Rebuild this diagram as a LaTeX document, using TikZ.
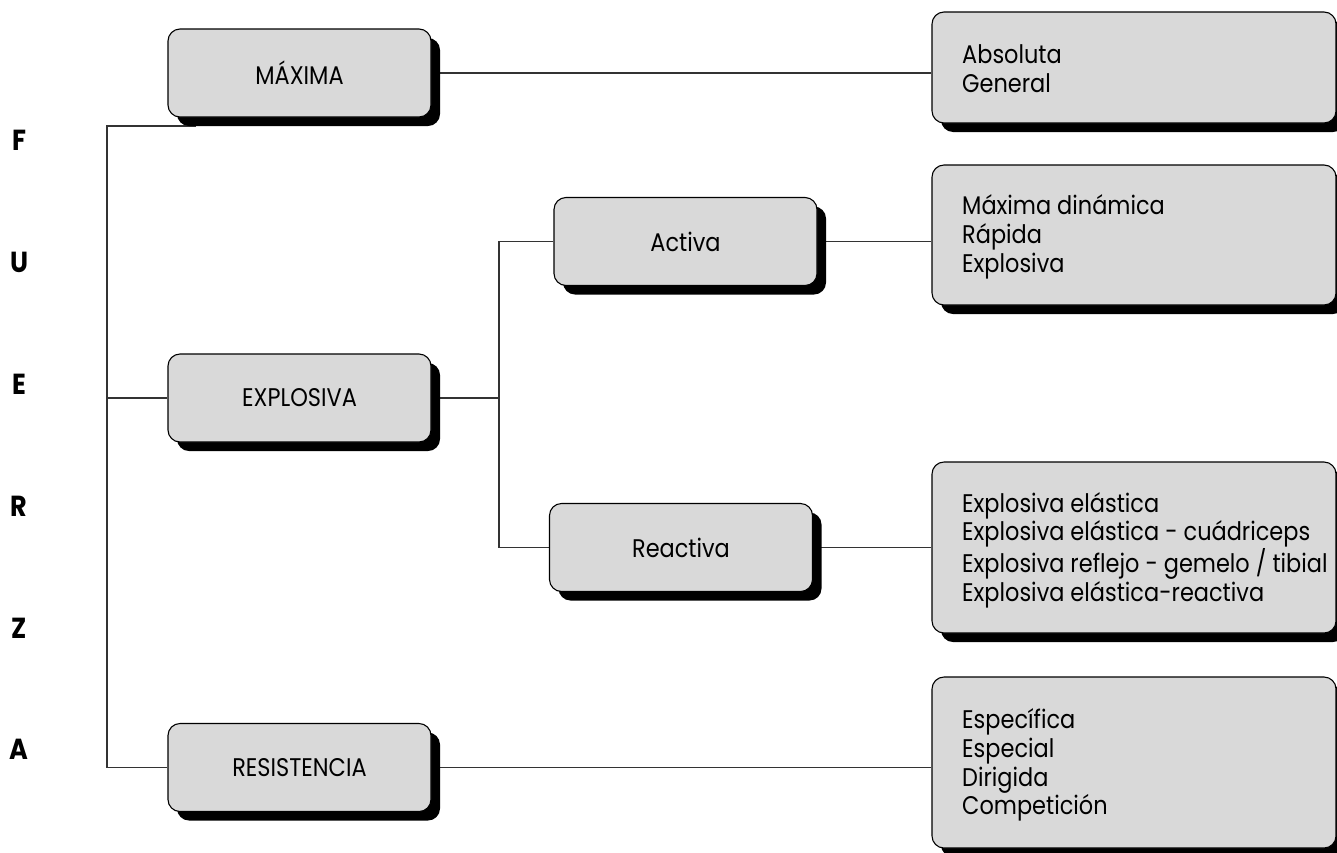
\documentclass[tikz,border=0pt]{standalone}
\usepackage{fontspec}
\setmainfont{Poppins}[FakeStretch=0.88]
\usetikzlibrary{shadows,backgrounds}
\definecolor{boxgray}{HTML}{D9D9D9}
\definecolor{linegray}{HTML}{333333}
\tikzset{
  x=1pt, y=-1pt,
  txt/.style={font=\fontsize{25.5}{28.7}\selectfont},
  box/.style={draw=black, line width=1.1pt, fill=boxgray, rounded corners=12pt,
    minimum width=263pt, minimum height=88pt, inner sep=0pt, txt,
    drop shadow={shadow xshift=9pt, shadow yshift=-9pt, opacity=1, fill=black}},
  listbox/.style={box, minimum width=404pt},
  listtext/.style={anchor=west, align=left, inner sep=0pt, txt},
  link/.style={draw=linegray, line width=1.1pt},
  letter/.style={font=\fontsize{29}{29}\selectfont\bfseries}
}
\begin{document}
\begin{tikzpicture}
\useasboundingbox (0,0) rectangle (1337,852);
\clip (0,0) rectangle (1337,852);

% side title
\node[letter] (lF) at (19,140) {F};
\node[letter] (lU) at (19,262) {U};
\node[letter] (lE) at (19,384) {E};
\node[letter] (lR) at (19,506) {R};
\node[letter] (lZ) at (19,628) {Z};
\node[letter] (lA) at (19,749) {A};

% first level
\node[box] (maxima) at (299.5,73) {MÁXIMA};
\node[box] (explosiva) at (299.5,398) {EXPLOSIVA};
\node[box] (resist) at (299.5,767.5) {RESISTENCIA};

% second level
\node[box] (activa) at (685.5,241.5) {Activa};
\node[box] (reactiva) at (681,547.5) {Reactiva};

% lists
\node[listbox, minimum height=111pt] (rb1) at (1134,67.5) {};
\node[listbox, minimum height=140pt] (rb2) at (1134,235) {};
\node[listbox, minimum height=171pt] (rb3) at (1134,547.5) {};
\node[listbox, minimum height=171pt] (rb4) at (1134,762.5) {};

\node[listtext] (rt1) at (962,69) {Absoluta\\General};
\node[listtext] (rt2) at (962,237) {Máxima dinámica\\Rápida\\Explosiva};
\node[listtext] (rt3) at (962,550) {Explosiva elástica\\Explosiva elástica - cuádriceps\\Explosiva reflejo - gemelo / tibial\\Explosiva elástica-reactiva};
\node[listtext] (rt4) at (962,765) {Específica\\Especial\\Dirigida\\Competición};

% connectors
\coordinate (ttop) at (107,126);
\coordinate (jmax) at (196,126);
\coordinate (sj) at (499,398);
\begin{scope}[on background layer]
\draw[link] (jmax) -- (ttop) |- (resist.west);
\draw[link] (ttop |- explosiva.west) -- (explosiva.west);
\draw[link] (maxima.east) -- (maxima.east -| rb1.west);
\draw[link] (explosiva.east) -- (sj);
\draw[link] (activa.west) -| (sj) |- (reactiva.west);
\draw[link] (activa.east) -- (activa.east -| rb2.west);
\draw[link] (reactiva.east) -- (reactiva.east -| rb3.west);
\draw[link] (resist.east) -- (resist.east -| rb4.west);
\end{scope}
\end{tikzpicture}
\end{document}
